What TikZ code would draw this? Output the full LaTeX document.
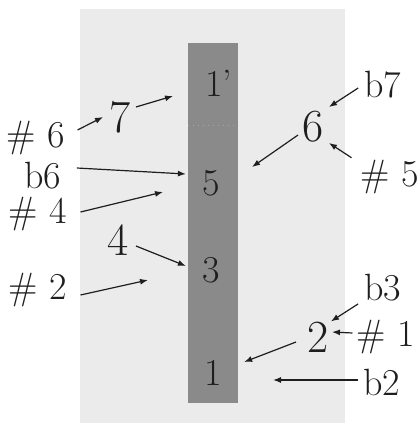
\documentclass[tikz,border=0pt]{standalone}
\usetikzlibrary{arrows.meta}
\definecolor{PaperGray}{HTML}{EBEBEB}
\definecolor{BarGray}{HTML}{8A8A8A}
\definecolor{InkGray}{HTML}{1E1E1E}

\begin{document}
\begin{tikzpicture}[x=0.5pt,y=-0.5pt,>={Latex[length=4pt,width=3pt]},
  lbl/.style={inner sep=0pt,text=InkGray,font=\fontsize{19}{21}\selectfont},
  big/.style={lbl,font=\fontsize{23}{25}\selectfont},
  ptr/.style={->,draw=InkGray,line width=0.6pt}]
  \useasboundingbox (0,0) rectangle (419,423);
  \fill[PaperGray] (80,9) rectangle (345,423);
  \fill[BarGray] (188,43) rectangle (238,403);
  \draw[BarGray!75!white,dotted,line width=0.5pt] (188,125) -- (238,125);
  % numbers on the bar
  \node[lbl] (s1p) at (219,83) {1’};
  \node[lbl] (s5) at (211,183) {5};
  \node[lbl] (s3) at (211,270) {3};
  \node[lbl] (s1) at (213,373) {1};
  % left labels
  \node[big] (n7) at (120,117) {7};
  \node[lbl] (h6) at (36,138) {\# 6};
  \node[lbl] (b6) at (43,176) {b6};
  \node[lbl] (h4) at (38,214) {\# 4};
  \node[big] (n4) at (118,240) {4};
  \node[lbl] (h2) at (38,290) {\# 2};
  % right labels
  \node[lbl] (b7) at (383,85) {b7};
  \node[big] (n6) at (313,127) {6};
  \node[lbl] (h5) at (390,177) {\# 5};
  \node[lbl] (b3) at (383,288) {b3};
  \node[big] (n2) at (318,337) {2};
  \node[lbl] (h1) at (386,337) {\# 1};
  \node[lbl] (b2) at (382,382) {b2};
  % free arrow tips
  \coordinate (t7) at (173,96);
  \coordinate (t4) at (163,192);
  \coordinate (t2) at (148,280);
  \coordinate (t6) at (252,167);
  \coordinate (tb2) at (273,380);
  % arrows
  \draw[ptr] ([shift={(12,-8)}]h6.east) -- ([shift={(-6,0)}]n7.west);
  \draw[ptr] ([shift={(5,-10)}]n7.east) -- (t7);
  \draw[ptr] ([shift={(15,-8)}]b6.east) -- ([shift={(-16,-9)}]s5.west);
  \draw[ptr] ([shift={(13,-2)}]h4.east) -- (t4);
  \draw[ptr] ([shift={(7,6)}]n4.east) -- ([shift={(-16,-4)}]s3.west);
  \draw[ptr] ([shift={(13,5)}]h2.east) -- (t2);
  \draw[ptr] ([shift={(-6,3)}]b7.west) -- ([shift={(5,-4)}]n6.north east);
  \draw[ptr] ([shift={(-4,8)}]n6.west) -- (t6);
  \draw[ptr] ([shift={(-9,-2)}]h5.north west) -- ([shift={(5,0)}]n6.south east);
  \draw[ptr] ([shift={(-6,2)}]b3.south west) -- ([shift={(2,0)}]n2.north east);
  \draw[ptr] ([shift={(-4,-4)}]h1.west) -- ([shift={(3,-5)}]n2.east);
  \draw[ptr] ([shift={(-11,5)}]n2.west) -- ([shift={(22,-11)}]s1.east);
  \draw[ptr] ([shift={(-5,-2)}]b2.west) -- (tb2);
\end{tikzpicture}
\end{document}
